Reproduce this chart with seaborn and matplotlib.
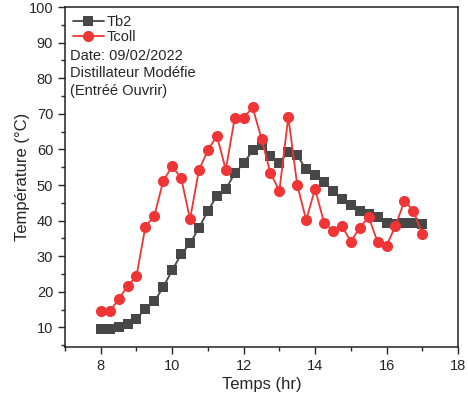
import matplotlib
matplotlib.use("Agg")
import matplotlib.pyplot as plt
import pandas as pd
import seaborn as sns
from matplotlib.ticker import MultipleLocator

sns.set_style("ticks")
plt.rcParams["font.family"] = ["Liberation Sans", "DejaVu Sans"]

# time in hours, every 15 minutes
temps = [8.0, 8.25, 8.5, 8.75, 9.0, 9.25, 9.5, 9.75, 10.0, 10.25, 10.5, 10.75,
         11.0, 11.25, 11.5, 11.75, 12.0, 12.25, 12.5, 12.75, 13.0, 13.25, 13.5,
         13.75, 14.0, 14.25, 14.5, 14.75, 15.0, 15.25, 15.5, 15.75, 16.0, 16.25,
         16.5, 16.75, 17.0]
tb2 = [9.5, 9.5, 10.2, 11.1, 12.5, 15.1, 17.3, 21.3, 26.1, 30.5, 33.6, 38.0,
       42.7, 47.0, 48.8, 53.3, 56.1, 59.7, 61.3, 58.2, 56.3, 59.3, 58.3, 54.4,
       52.8, 50.9, 48.3, 46.2, 44.3, 42.6, 41.9, 40.9, 39.3, 39.1, 39.3, 39.4,
       39.1]
tcoll = [14.5, 14.5, 17.9, 21.6, 24.4, 38.3, 41.3, 51.2, 55.2, 52.0, 40.4, 54.3,
         59.7, 63.9, 54.3, 68.8, 68.9, 71.8, 63.0, 53.3, 48.4, 69.1, 50.0, 40.2,
         48.9, 39.4, 37.2, 38.5, 34.1, 38.0, 41.0, 34.0, 33.0, 38.5, 45.5, 42.8,
         36.2]

df = pd.DataFrame({"Temps": temps, "Tb2": tb2, "Tcoll": tcoll})

fig = plt.figure(figsize=(4.68, 4.05), dpi=100)
ax = fig.add_axes([65 / 468, 1 - 347 / 405, 393 / 468, 340 / 405])

sns.lineplot(data=df, x="Temps", y="Tb2", ax=ax, color="#474747", marker="s",
             markersize=7, markeredgewidth=0, linewidth=1.3, label="Tb2")
sns.lineplot(data=df, x="Temps", y="Tcoll", ax=ax, color="#ef3535", marker="o",
             markersize=8, markeredgewidth=0, linewidth=1.3, label="Tcoll")

ax.set_xlim(7, 18)
ax.set_ylim(4.5, 100)
ax.xaxis.set_major_locator(MultipleLocator(2))
ax.xaxis.set_minor_locator(MultipleLocator(1))
ax.yaxis.set_minor_locator(MultipleLocator(5))
ax.set_yticks(range(10, 101, 10))
ax.tick_params(which="major", direction="out", length=5, width=1, labelsize=10.5)
ax.tick_params(which="minor", direction="out", length=3, width=1)
for s in ax.spines.values():
    s.set_linewidth(1.1)
    s.set_color("#222222")

ax.set_xlabel("Temps (hr)", fontsize=12, labelpad=3)
ax.set_ylabel("Température (°C)", fontsize=12, labelpad=-1)

leg = ax.legend(loc="upper left", frameon=False, fontsize=10.5,
                handlelength=2.1, handletextpad=0.2, labelspacing=0.1,
                borderaxespad=0.35, borderpad=0.2)

notes = ["Date: 09/02/2022", "Distillateur Modéfie", "(Entréé Ouvrir)"]
for i, line in enumerate(notes):
    ax.text(0.012, 0.877 - i * 0.0515, line, transform=ax.transAxes,
            fontsize=10.5, va="top", ha="left")

fig.savefig("out.png", dpi=100)
